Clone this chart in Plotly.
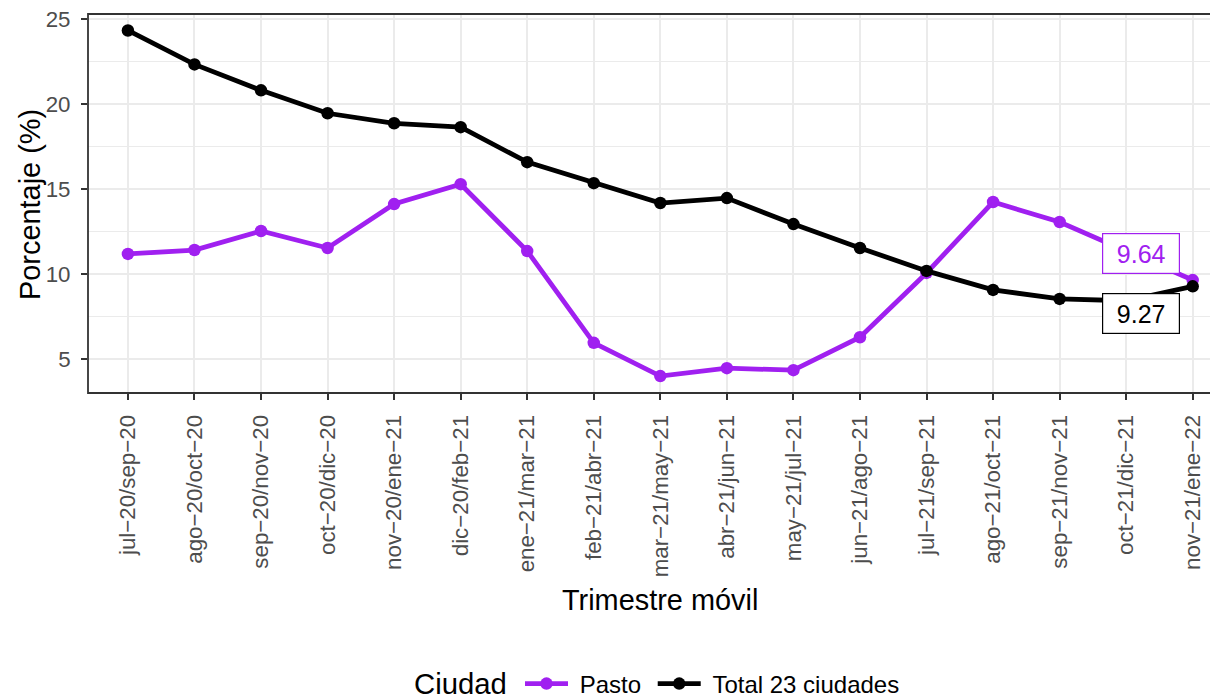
import plotly.graph_objects as go

categories = ["jul−20/sep−20", "ago−20/oct−20", "sep−20/nov−20", "oct−20/dic−20",
              "nov−20/ene−21", "dic−20/feb−21", "ene−21/mar−21", "feb−21/abr−21",
              "mar−21/may−21", "abr−21/jun−21", "may−21/jul−21", "jun−21/ago−21",
              "jul−21/sep−21", "ago−21/oct−21", "sep−21/nov−21", "oct−21/dic−21",
              "nov−21/ene−22"]

pasto = [11.18, 11.41, 12.53, 11.53, 14.12, 15.29, 11.35, 5.94, 3.98, 4.45, 4.33,
         6.27, 10.06, 14.24, 13.06, 11.35, 9.64]
total = [24.35, 22.35, 20.82, 19.47, 18.88, 18.65, 16.59, 15.35, 14.18, 14.47, 12.94,
         11.53, 10.18, 9.06, 8.53, 8.42, 9.27]

series_names = ["Pasto", "Total 23 ciudades"]
series_colors = ["#A020F0", "#000000"]
y_ticks = [5, 10, 15, 20, 25]

FONT = "Liberation Sans, Arial, sans-serif"
NB = "\u00a0"

# The page body adds an 8px offset; the figure is sized so it fills the window.
W, H = 1210, 689
L, T, B = 80, 6, 304
PW, PH = W - L, H - T - B

fig = go.Figure()
for name, vals, col in zip(series_names, [pasto, total], series_colors):
    fig.add_trace(go.Scatter(
        x=categories, y=vals, name=NB + name + NB, mode="lines+markers",
        line=dict(color=col, width=4.8),
        marker=dict(color=col, size=12.5),
        hoverinfo="skip",
    ))

# end labels
label_x = 15.22
for val, ypos, col in [(pasto[-1], 11.18, series_colors[0]), (total[-1], 7.65, series_colors[1])]:
    fig.add_annotation(
        x=label_x, y=ypos, xref="x", yref="y", text=f"{val:.2f}",
        showarrow=False, font=dict(family=FONT, size=25, color=col),
        bgcolor="white", bordercolor=col, borderwidth=1.2, borderpad=4,
        width=68, height=31,
    )

def px(xf):
    return (xf - L) / PW

def py(yf):
    return (T + PH - yf) / PH

# axis titles
fig.add_annotation(x=px(651.5), y=py(592), xref="paper", yref="paper", text="Trimestre móvil",
                   showarrow=False, font=dict(family=FONT, size=28.9, color="black"),
                   xanchor="center", yanchor="middle")
fig.add_annotation(x=px(22), y=py(197), xref="paper", yref="paper", text="Porcentaje (%)",
                   showarrow=False, textangle=-90, font=dict(family=FONT, size=28.9, color="black"),
                   xanchor="center", yanchor="middle")
# legend title
fig.add_annotation(x=px(501), y=py(675), xref="paper", yref="paper", text="Ciudad",
                   showarrow=False, font=dict(family=FONT, size=29.3, color="black"),
                   xanchor="right", yanchor="middle")

# panel border
fig.add_shape(type="rect", xref="paper", yref="paper", x0=0, x1=1.05, y0=0, y1=1,
              line=dict(color="#333333", width=1.8), layer="above")

fig.update_layout(
    width=W, height=H,
    margin=dict(l=L, r=0, t=T, b=B, autoexpand=False),
    paper_bgcolor="white", plot_bgcolor="white",
    font=dict(family=FONT, color="black"),
    showlegend=True,
    legend=dict(
        orientation="h", x=px(512), xanchor="left",
        yref="container", y=(H - 676) / H, yanchor="middle",
        itemwidth=43,
        font=dict(family=FONT, size=24, color="black"),
        bgcolor="rgba(0,0,0,0)",
    ),
    xaxis=dict(
        type="category", range=[-0.6, 16.38], automargin=False,
        tickangle=-90, tickfont=dict(family=FONT, size=22.3, color="#4D4D4D"),
        ticks="outside", ticklen=6, tickcolor="#333333", tickwidth=1.8,
        ticklabelstandoff=6, ticklabeloverflow="allow",
        showgrid=True, gridcolor="#EBEBEB", gridwidth=2.2,
        showline=False, zeroline=False,
    ),
    yaxis=dict(
        range=[2.985, 25.32], tickvals=y_ticks, automargin=False,
        tickfont=dict(family=FONT, size=22.3, color="#4D4D4D"),
        ticks="outside", ticklen=6, tickcolor="#333333", tickwidth=1.8,
        ticklabelstandoff=6, ticklabeloverflow="allow",
        showgrid=True, gridcolor="#EBEBEB", gridwidth=2.2,
        minor=dict(dtick=2.5, tick0=0, showgrid=True, gridcolor="#EBEBEB", gridwidth=1.1, ticks=""),
        showline=False, zeroline=False,
    ),
)

fig.write_html("out.html")
